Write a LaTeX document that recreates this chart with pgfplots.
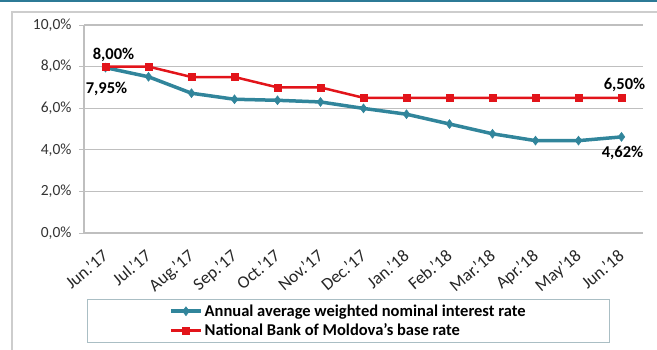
\documentclass[border=0pt]{standalone}
\usepackage{fontspec}
\setmainfont{Carlito}
\usepackage{pgfplots}
\pgfplotsset{compat=1.18}
\definecolor{rateteal}{RGB}{49,133,155}
\definecolor{basered}{RGB}{226,20,26}
\definecolor{gridgrey}{RGB}{191,191,191}
\definecolor{framegrey}{RGB}{205,205,205}
\definecolor{legframe}{RGB}{170,190,196}
\definecolor{topbar}{RGB}{44,122,150}

\begin{document}
\begin{tikzpicture}
\path[use as bounding box] (0pt,0pt) rectangle (657pt,349pt);
\fill[topbar] (0pt,346.5pt) rectangle (657pt,349pt);
\draw[framegrey, line width=1.5pt] (12pt,-2pt) -- (12pt,337pt) -- (660pt,337pt);
\begin{axis}[
  at={(84pt,116pt)}, anchor=south west,
  scale only axis, width=559pt, height=208pt,
  xmin=-0.5, xmax=12.5, ymin=0, ymax=10,
  axis lines*=left,
  axis line style={gridgrey, line width=1.2pt},
  xtick={0,...,12},
  xticklabels={Jun.'17,Jul.'17,Aug.'17,Sep.'17,Oct.'17,Nov.'17,Dec.'17,Jan.'18,Feb.'18,Mar.'18,Apr.'18,May'18,Jun.'18},
  xtick style={draw=none},
  extra x ticks={-0.5,0.5,...,12.5},
  extra x tick labels={},
  extra x tick style={draw=gridgrey, line width=1pt, grid=none},
  ytick={0,2,...,10},
  yticklabels={{0,0\%},{2,0\%},{4,0\%},{6,0\%},{8,0\%},{10,0\%}},
  ytick style={gridgrey, line width=1pt},
  tick align=outside, major tick length=5pt,
  ymajorgrids, grid style={gridgrey, line width=1.2pt},
  yticklabel style={font=\fontsize{15.5}{15.5}\selectfont, text=black!80, xshift=-4pt},
  xticklabel style={xshift=-4pt, yshift=-9pt, rotate=40, anchor=north east, font=\fontsize{17.5}{17.5}\selectfont, text=black!85, inner sep=1pt},
  clip=false,
  legend style={at={(0.473,-0.423)}, anchor=center, draw=legframe, line width=1pt,
    font=\bfseries\fontsize{16.5}{18}\selectfont, inner xsep=82pt, inner ysep=3pt,
    row sep=2pt, cells={anchor=west}},
  legend cell align=left,
  legend image code/.code={\draw[mark repeat=2,mark phase=2] plot coordinates {(0pt,0pt) (15pt,0pt) (30pt,0pt)};},
]
\addplot[rateteal, line width=3.5pt, mark=diamond*, mark size=4.5pt, mark options={solid, line width=0.5pt}]
  coordinates {(0,7.95) (1,7.51) (2,6.72) (3,6.43) (4,6.38) (5,6.30) (6,5.99) (7,5.71) (8,5.24) (9,4.77) (10,4.44) (11,4.44) (12,4.62)};
\addlegendentry{Annual average weighted nominal interest rate}
\addplot[basered, line width=2.5pt, mark=square*, mark size=3.5pt, mark options={solid, line width=0.5pt}]
  coordinates {(0,8.00) (1,8.00) (2,7.50) (3,7.50) (4,7.00) (5,7.00) (6,6.50) (7,6.50) (8,6.50) (9,6.50) (10,6.50) (11,6.50) (12,6.50)};
\addlegendentry{National Bank of Moldova's base rate}
\node[font=\bfseries\fontsize{16.5}{16.5}\selectfont, xshift=8pt, yshift=12pt] at (axis cs:0,8.00) {8,00\%};
\node[font=\bfseries\fontsize{16.5}{16.5}\selectfont, xshift=1pt, yshift=-21pt] at (axis cs:0,7.95) {7,95\%};
\node[font=\bfseries\fontsize{16.5}{16.5}\selectfont, xshift=3pt, yshift=13pt] at (axis cs:12,6.50) {6,50\%};
\node[font=\bfseries\fontsize{16.5}{16.5}\selectfont, xshift=1pt, yshift=-16pt] at (axis cs:12,4.62) {4,62\%};
\end{axis}
\end{tikzpicture}
\end{document}
